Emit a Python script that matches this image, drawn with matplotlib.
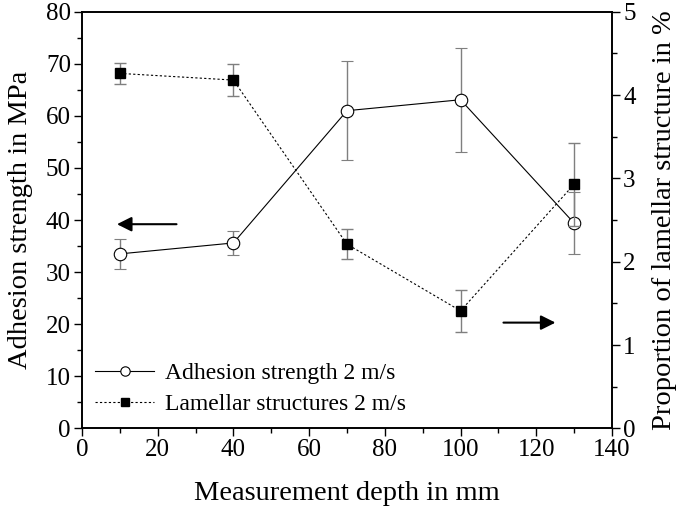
import numpy as np
import matplotlib.pyplot as plt
from matplotlib.ticker import MultipleLocator

plt.rcParams['font.family'] = ['Liberation Serif', 'DejaVu Serif']
plt.rcParams['font.size'] = 18

depth = [10, 40, 70, 100, 130]

adhesion = [33.5, 35.6, 61.0, 63.1, 39.4]
adhesion_err = [2.9, 2.3, 9.5, 10.0, 6.0]

lamellar = [4.26, 4.18, 2.21, 1.41, 2.93]
lamellar_err = [0.125, 0.19, 0.18, 0.25, 0.5]

err_color = '#7f7f7f'

fig = plt.figure(figsize=(6.85, 5.11), dpi=100)
ax = fig.add_axes([0.1197, 0.1618, 0.7737, 0.8152])
ax2 = ax.twinx()

e1 = ax.errorbar(depth, adhesion, yerr=adhesion_err, color='black', lw=0.8,
                 marker='o', ms=9, mfc='white', mec='black', mew=0.8,
                 ecolor=err_color, elinewidth=1.0, capsize=4, capthick=1.0,
                 zorder=3)
e2 = ax2.errorbar(depth, lamellar, yerr=lamellar_err, color='black', lw=0.8,
                  ls=(0, (2, 2)), marker='s', ms=7, mfc='black', mec='black',
                  ecolor=err_color, elinewidth=1.0, capsize=4, capthick=1.0,
                  zorder=3)

ax.set_xlim(0, 140)
ax.set_ylim(0, 80)
ax2.set_ylim(0, 5)

ax.xaxis.set_major_locator(MultipleLocator(20))
ax.xaxis.set_minor_locator(MultipleLocator(10))
ax.yaxis.set_major_locator(MultipleLocator(10))
ax.yaxis.set_minor_locator(MultipleLocator(5))
ax2.yaxis.set_major_locator(MultipleLocator(1))
ax2.yaxis.set_minor_locator(MultipleLocator(0.5))

for a in (ax, ax2):
    a.tick_params(which='major', direction='out', length=6, width=1.0, labelsize=18, pad=2)
    a.tick_params(which='minor', direction='out', length=3.5, width=1.0)
    for s in a.spines.values():
        s.set_linewidth(1.2)
ax.tick_params(top=False, right=False)

ax.set_xlabel('Measurement depth in mm', fontsize=20.5, labelpad=14)
ax.set_ylabel('Adhesion strength in MPa', fontsize=20.5, labelpad=9)
ax2.set_ylabel('Proportion of lamellar structure in %', fontsize=20.5, labelpad=12)

# arrows pointing to the axis each series belongs to
ax.annotate('', xy=(8.5, 39.2), xytext=(25.7, 39.2),
            arrowprops=dict(arrowstyle='-|>', color='black', lw=1.5, mutation_scale=22))
ax.annotate('', xy=(125.8, 20.3), xytext=(110.6, 20.3),
            arrowprops=dict(arrowstyle='-|>', color='black', lw=1.5, mutation_scale=22))

# legend shows only the line + marker, no error bars
leg = ax2.legend([e1[0], e2[0]], ['Adhesion strength 2 m/s', 'Lamellar structures 2 m/s'],
                 loc='lower left', frameon=False, fontsize=17, markerscale=0.75,
                 handlelength=2.5, handletextpad=0.45, labelspacing=0.4,
                 bbox_to_anchor=(-0.015, -0.02))

fig.savefig('out.png', dpi=100)
